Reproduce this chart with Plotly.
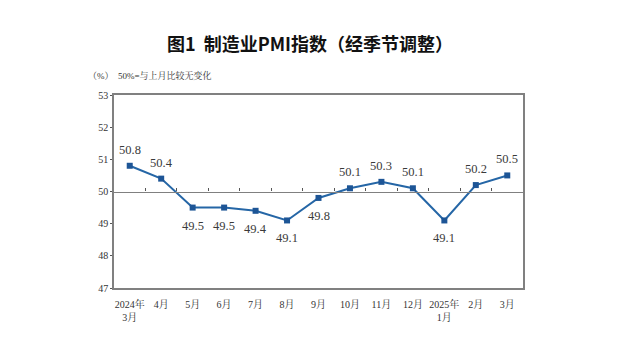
import plotly.graph_objects as go

categories = ["2024年<br>3月", "4月", "5月", "6月", "7月", "8月", "9月", "10月",
              "11月", "12月", "2025年<br>1月", "2月", "3月"]
pmi = [50.8, 50.4, 49.5, 49.5, 49.4, 49.1, 49.8, 50.1, 50.3, 50.1, 49.1, 50.2, 50.5]
y_ticks = [47, 48, 49, 50, 51, 52, 53]

x = list(range(len(categories)))
serif = "Liberation Serif, Noto Serif CJK SC, Noto Sans CJK SC, serif"

fig = go.Figure()
fig.add_trace(go.Scatter(
    x=x, y=pmi, mode="lines+markers",
    line=dict(color="#2566a6", width=2),
    marker=dict(symbol="square", size=6, color="#1d5596"),
    cliponaxis=False, showlegend=False, hoverinfo="skip",
))
# invisible trace on xaxis2 to activate the boundary-tick axis at 50
fig.add_trace(go.Scatter(x=[x[0]], y=[pmi[0]], xaxis="x2", mode="markers",
                         marker=dict(opacity=0), showlegend=False, hoverinfo="skip"))

annotations = []
for xi, v in zip(x, pmi):
    annotations.append(dict(
        x=xi, y=v, xref="x", yref="y", text=f"{v:.1f}", showarrow=False,
        xanchor="center", yanchor="middle", yshift=16 if v >= 50 else -18,
        font=dict(family=serif, size=12.5, color="#3a3a3a")))
annotations.append(dict(
    text="（%）  50%=与上月比较无变化", xref="paper", yref="paper",
    x=-0.068, y=1.1, xanchor="left", yanchor="middle", showarrow=False,
    font=dict(family=serif, size=9, color="#333333")))

fig.update_layout(
    width=640, height=350,
    margin=dict(l=114, r=117, t=95, b=62),
    paper_bgcolor="white", plot_bgcolor="white",
    xaxis=dict(range=[-0.5, len(x) - 0.5], tickmode="array", tickvals=x,
               ticktext=categories, ticks="", showgrid=False, zeroline=False,
               showline=True, linecolor="#808080", linewidth=1.5, mirror=True,
               ticklabelstandoff=6,
               tickfont=dict(family=serif, size=10, color="#333333")),
    xaxis2=dict(range=[-0.5, len(x) - 0.5], overlaying="x", anchor="free",
                position=0.5, side="bottom", tickmode="array",
                tickvals=[i + 0.5 for i in x[:-1]], showticklabels=False,
                ticks="inside", ticklen=3, tickcolor="#555555", tickwidth=1,
                showline=True, linecolor="#808080", linewidth=1.2,
                showgrid=False, zeroline=False),
    yaxis=dict(range=[47, 53], tickmode="array", tickvals=y_ticks,
               ticks="outside", ticklen=2, tickcolor="#555555",
               showgrid=False, zeroline=False,
               showline=True, linecolor="#808080", linewidth=1.5, mirror=True,
               tickfont=dict(family=serif, size=10, color="#333333")),
    title=dict(text="<b>图1  制造业PMI指数（经季节调整）</b>", x=310 / 640, xanchor="center",
               y=1 - 45 / 350, yanchor="middle",
               font=dict(family="Noto Sans CJK SC, sans-serif", size=18, color="#111111")),
    annotations=annotations,
)

fig.write_html("out.html")
